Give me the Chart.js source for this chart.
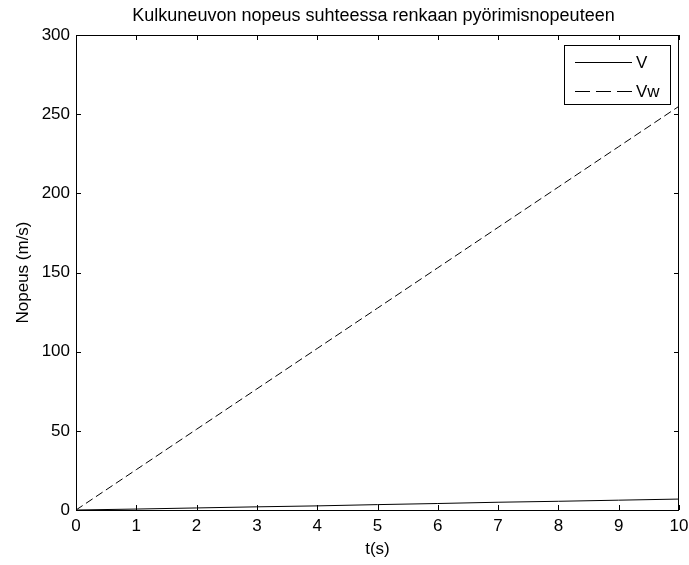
<!DOCTYPE html>
<html>
<head>
<meta charset="utf-8">
<script src="https://cdn.jsdelivr.net/npm/chart.js@4/dist/chart.umd.min.js"></script>
<style>
  html, body { margin: 0; padding: 0; background: #fff; }
  #wrap { width: 689px; height: 565px; position: relative; }
</style>
</head>
<body>
<div id="wrap"><canvas id="c" width="689" height="565"></canvas></div>
<script>
// Time samples (s)
const timeSec = [0, 1, 2, 3, 4, 5, 6, 7, 8, 9, 10];
// Vehicle speed V (m/s)
const speedV = [0, 0.6, 1.3, 2.0, 2.6, 3.4, 4.1, 4.9, 5.5, 6.2, 6.9];
// Wheel rotational speed Vw (m/s)
const speedVw = [0, 25.5, 51, 76.5, 102, 127.5, 153, 178.5, 204, 229.5, 255];
// Axis tick labels
const xTicks = [0, 1, 2, 3, 4, 5, 6, 7, 8, 9, 10];
const yTicks = [0, 50, 100, 150, 200, 250, 300];

const titleText = 'Kulkuneuvon nopeus suhteessa renkaan pyörimisnopeuteen';
const FONT = '"Liberation Sans", Arial, sans-serif';

// Boxed axes with inward ticks on all four sides, plus title and legend
const framePlugin = {
  id: 'frame',
  afterDraw(chart) {
    const { ctx, chartArea: a, scales } = chart;
    const x = scales.x, y = scales.y;
    ctx.save();
    ctx.strokeStyle = '#000';
    ctx.lineWidth = 1;
    ctx.strokeRect(Math.round(a.left) + 0.5, Math.round(a.top) + 0.5,
                   Math.round(a.right - a.left) - 1, Math.round(a.bottom - a.top));
    const tl = 5;
    ctx.beginPath();
    xTicks.forEach(v => {
      const px = Math.round(x.getPixelForValue(v)) + 0.5;
      ctx.moveTo(px, a.bottom); ctx.lineTo(px, a.bottom - tl);
      ctx.moveTo(px, a.top); ctx.lineTo(px, a.top + tl);
    });
    yTicks.forEach(v => {
      const py = Math.round(y.getPixelForValue(v)) + 0.5;
      ctx.moveTo(a.left, py); ctx.lineTo(a.left + tl, py);
      ctx.moveTo(a.right, py); ctx.lineTo(a.right - tl, py);
    });
    ctx.stroke();

    // Title
    ctx.fillStyle = '#000';
    ctx.font = '18px ' + FONT;
    ctx.textAlign = 'center';
    ctx.textBaseline = 'middle';
    ctx.fillText(titleText, (a.left + a.right) / 2 - 4, 16);

    // Legend box
    const lx = 564.5, ly = 45.5, lw = 106, lh = 59;
    ctx.fillStyle = '#fff';
    ctx.fillRect(lx, ly, lw, lh);
    ctx.strokeRect(lx, ly, lw, lh);
    const ds = chart.data.datasets;
    const rows = [62.5, 91.5];
    ds.forEach((d, i) => {
      ctx.beginPath();
      ctx.setLineDash(d.borderDash ? [15, 6] : []);
      ctx.moveTo(575, rows[i]); ctx.lineTo(632, rows[i]);
      ctx.stroke();
      ctx.setLineDash([]);
      ctx.fillStyle = '#000';
      ctx.font = '17px ' + FONT;
      ctx.textAlign = 'left';
      ctx.fillText(d.label, 636, rows[i] + 1);
    });
    ctx.restore();
  }
};

new Chart(document.getElementById('c'), {
  type: 'line',
  data: {
    labels: timeSec,
    datasets: [
      {
        label: 'V',
        data: timeSec.map((t, i) => ({ x: t, y: speedV[i] })),
        borderColor: '#000',
        borderWidth: 1,
        pointRadius: 0,
        tension: 0,
        fill: false
      },
      {
        label: 'Vw',
        data: timeSec.map((t, i) => ({ x: t, y: speedVw[i] })),
        borderColor: '#000',
        borderWidth: 1,
        borderDash: [8, 4],
        pointRadius: 0,
        tension: 0,
        fill: false
      }
    ]
  },
  options: {
    responsive: false,
    animation: false,
    devicePixelRatio: 1,
    layout: { padding: { top: 35, right: 10, left: 0, bottom: 0 } },
    plugins: {
      legend: { display: false },
      title: { display: false },
      tooltip: { enabled: false }
    },
    scales: {
      x: {
        type: 'linear',
        min: 0,
        max: 10,
        afterBuildTicks(s) { s.ticks = xTicks.map(v => ({ value: v })); },
        afterFit(s) { s.height = 55; s.paddingLeft = 0; s.paddingRight = 0; },
        grid: { display: false, drawTicks: false },
        border: { display: false },
        ticks: {
          color: '#000',
          font: { family: FONT, size: 17 },
          padding: 6,
          maxRotation: 0
        },
        title: {
          display: true,
          text: 't(s)',
          color: '#000',
          font: { family: FONT, size: 17 },
          padding: { top: 0, bottom: 5 }
        }
      },
      y: {
        type: 'linear',
        min: 0,
        max: 300,
        afterBuildTicks(s) { s.ticks = yTicks.map(v => ({ value: v })); },
        afterFit(s) { s.width = 76; s.paddingTop = 0; s.paddingBottom = 0; },
        grid: { display: false, drawTicks: false },
        border: { display: false },
        ticks: {
          color: '#000',
          font: { family: FONT, size: 17 },
          padding: 6
        },
        title: {
          display: true,
          text: 'Nopeus (m/s)',
          color: '#000',
          font: { family: FONT, size: 17 },
          padding: { top: 13, bottom: 0 }
        }
      }
    }
  },
  plugins: [framePlugin]
});
</script>
</body>
</html>
